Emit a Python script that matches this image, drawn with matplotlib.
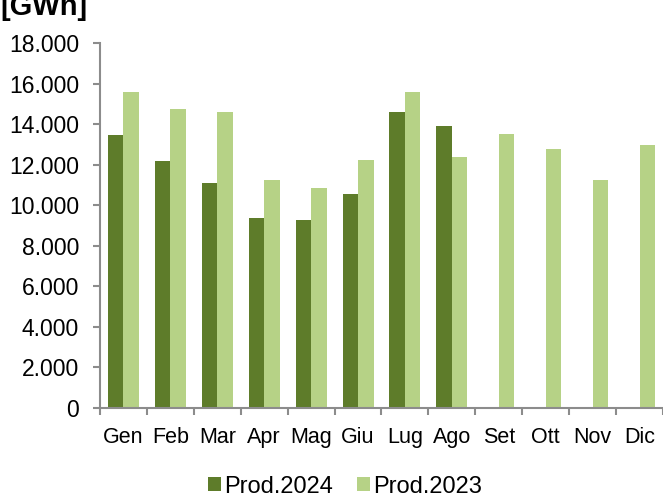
import matplotlib.pyplot as plt
import numpy as np
from matplotlib.ticker import FuncFormatter, FixedLocator

plt.rcParams['font.family'] = ['Liberation Sans', 'DejaVu Sans']

mesi = ["Gen", "Feb", "Mar", "Apr", "Mag", "Giu", "Lug", "Ago", "Set", "Ott", "Nov", "Dic"]
prod_2024 = [13460, 12160, 11100, 9370, 9290, 10550, 14580, 13920]
prod_2023 = [15600, 14730, 14600, 11230, 10870, 12230, 15580, 12360, 13510, 12760, 11240, 12970]

col_2024 = "#5e7c2a"
col_2023 = "#b6d286"
grigio = "#8c8c8c"

fig = plt.figure(figsize=(6.63, 4.98), dpi=100)
ax = fig.add_axes([0.1508, 0.1807, 0.8492, 0.733])

x = np.arange(len(mesi))
w = 0.33
ax.bar(x[:len(prod_2024)] - w / 2, prod_2024, w, color=col_2024, label="Prod.2024")
ax.bar(x + w / 2, prod_2023, w, color=col_2023, label="Prod.2023")

ax.set_xlim(-0.5, 11.5)
ax.set_ylim(0, 18000)
ax.set_yticks(np.arange(0, 18001, 2000))
ax.yaxis.set_major_formatter(FuncFormatter(lambda v, p: f"{int(v):,}".replace(",", ".")))

ax.set_xticks(x)
ax.set_xticklabels(mesi)
ax.xaxis.set_minor_locator(FixedLocator(np.arange(-0.5, 11.6, 1)))
ax.tick_params(axis='x', which='major', length=0, pad=14, labelsize=15.5)
ax.tick_params(axis='x', which='minor', length=5, width=1.5, color=grigio)
ax.tick_params(axis='y', length=5, width=1.5, color=grigio, labelsize=16.5, pad=10)

for s in ['top', 'right']:
    ax.spines[s].set_visible(False)
for s in ['left', 'bottom']:
    ax.spines[s].set_color(grigio)
    ax.spines[s].set_linewidth(1.5)

fig.text(0.0, 0.97, "[GWh]", fontsize=21, fontweight='bold', va='baseline', ha='left')

ax.legend(loc='lower center', bbox_to_anchor=(0.52, -0.018), bbox_transform=fig.transFigure,
          ncol=2, frameon=False, fontsize=17, handlelength=0.55, handleheight=0.55,
          handletextpad=0.15, columnspacing=1.0, borderaxespad=0)

fig.savefig("out.png", dpi=100)
